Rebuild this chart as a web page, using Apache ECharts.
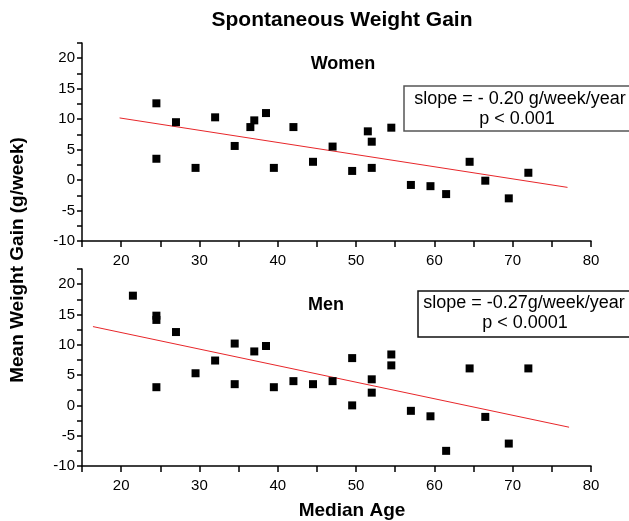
<!DOCTYPE html>
<html>
<head>
<meta charset="utf-8">
<script src="https://cdn.jsdelivr.net/npm/echarts@6/dist/echarts.min.js"></script>
<style>
html,body{margin:0;padding:0;background:#fff;}
#chart{width:629px;height:521px;}
</style>
</head>
<body>
<div id="chart"></div>
<script>
// ---- data ----
const womenAge  = [24.5, 24.5, 27, 29.5, 32, 34.5, 36.5, 37, 38.5, 39.5, 42, 44.5, 47, 49.5, 51.5, 52, 52, 54.5, 57, 59.5, 61.5, 64.5, 66.5, 69.5, 72];
const womenGain = [12.6, 3.5, 9.5, 2.0, 10.3, 5.6, 8.7, 9.8, 11.0, 2.0, 8.7, 3.0, 5.5, 1.5, 8.0, 6.3, 2.0, 8.6, -0.8, -1.0, -2.3, 3.0, -0.1, -3.0, 1.2];
const menAge  = [21.5, 24.5, 24.5, 24.5, 27, 29.5, 32, 34.5, 34.5, 37, 38.5, 39.5, 42, 44.5, 47, 49.5, 49.5, 52, 52, 54.5, 54.5, 57, 59.5, 61.5, 64.5, 66.5, 69.5, 72];
const menGain = [18.1, 14.8, 14.1, 3.0, 12.1, 5.3, 7.4, 10.2, 3.5, 8.9, 9.8, 3.0, 4.0, 3.5, 4.0, 7.8, 0.0, 4.3, 2.1, 8.4, 6.6, -0.9, -1.8, -7.5, 6.1, -1.9, -6.3, 6.1];
const womenFitAge  = [19.8, 77];
const womenFitGain = [10.2, -1.2];
const menFitAge  = [16.4, 77.2];
const menFitGain = [13.0, -3.6];
const xTickLabels = [20, 30, 40, 50, 60, 70, 80];
const yTickLabels = [-10, -5, 0, 5, 10, 15, 20];

const titleText = 'Spontaneous Weight Gain';
const xName = 'Median Age';
const yName = 'Mean Weight Gain (g/week)';
const panelNames = ['Women', 'Men'];
const statTexts = [['slope = - 0.20 g/week/year', 'p < 0.001'], ['slope = -0.27g/week/year', 'p < 0.0001']];

const FONT = '"Liberation Sans", Arial, Helvetica, sans-serif';
const zip = (a, b) => a.map((v, i) => [v, b[i]]);

function xAxisDef(gi) {
  return {
    type: 'value', gridIndex: gi, min: 15, max: 80, interval: 5,
    axisLine: { onZero: false, lineStyle: { color: '#000', width: 1.5 } },
    axisTick: { length: 6, lineStyle: { color: '#000', width: 1.5 } },
    splitLine: { show: false },
    axisLabel: {
      margin: 12, color: '#000', fontSize: 15, fontFamily: FONT,
      formatter: v => (xTickLabels.indexOf(v) >= 0 ? String(v) : '')
    }
  };
}
function yAxisDef(gi) {
  return {
    type: 'value', gridIndex: gi, min: -10, max: 22.5, interval: 2.5,
    axisLine: { lineStyle: { color: '#000', width: 1.5 } },
    axisTick: { length: 5, lineStyle: { color: '#000', width: 1.5 } },
    splitLine: { show: false },
    axisLabel: {
      margin: 7, color: '#000', fontSize: 15, fontFamily: FONT,
      formatter: v => (yTickLabels.indexOf(v) >= 0 ? String(v) : '')
    }
  };
}
function scatter(gi, data) {
  return {
    type: 'scatter', xAxisIndex: gi, yAxisIndex: gi, data: data,
    symbol: 'rect', symbolSize: 8, itemStyle: { color: '#000', opacity: 1 }, z: 3
  };
}
function fit(gi, data) {
  return {
    type: 'line', xAxisIndex: gi, yAxisIndex: gi, data: data,
    symbol: 'none', lineStyle: { color: '#e8262a', width: 1 }, z: 2
  };
}
function txt(text, x, y, size, bold, align) {
  return {
    type: 'text', x: x, y: y, z: 10,
    style: {
      text: text, fill: '#000', align: align || 'center', verticalAlign: 'middle',
      font: (bold ? 'bold ' : '') + size + 'px ' + FONT
    }
  };
}

const chart = echarts.init(document.getElementById('chart'), null, { renderer: 'canvas' });
chart.setOption({
  backgroundColor: '#fff',
  animation: false,
  grid: [
    { left: 82, top: 43, width: 509, height: 198 },
    { left: 82, top: 269, width: 509, height: 197 }
  ],
  xAxis: [xAxisDef(0), xAxisDef(1)],
  yAxis: [yAxisDef(0), yAxisDef(1)],
  series: [
    fit(0, zip(womenFitAge, womenFitGain)),
    scatter(0, zip(womenAge, womenGain)),
    fit(1, zip(menFitAge, menFitGain)),
    scatter(1, zip(menAge, menGain))
  ],
  graphic: [
    txt(titleText, 342, 20, 21, true),
    txt(panelNames[0], 343, 64, 18, true),
    txt(panelNames[1], 326, 305, 18, true),
    txt(xName, 352, 511, 19, true),
    Object.assign(txt(yName, 18, 260, 19, true), { rotation: Math.PI / 2 }),
    { type: 'rect', shape: { x: 404, y: 86, width: 240, height: 45 }, z: 9,
      style: { fill: 'none', stroke: '#555', lineWidth: 1.5 } },
    txt(statTexts[0][0], 520, 99, 18, false),
    txt(statTexts[0][1], 517, 119, 18, false),
    { type: 'rect', shape: { x: 418, y: 291, width: 230, height: 46 }, z: 9,
      style: { fill: 'none', stroke: '#111', lineWidth: 1.5 } },
    txt(statTexts[1][0], 524, 303, 18, false),
    txt(statTexts[1][1], 525, 323, 18, false)
  ]
});
</script>
</body>
</html>
